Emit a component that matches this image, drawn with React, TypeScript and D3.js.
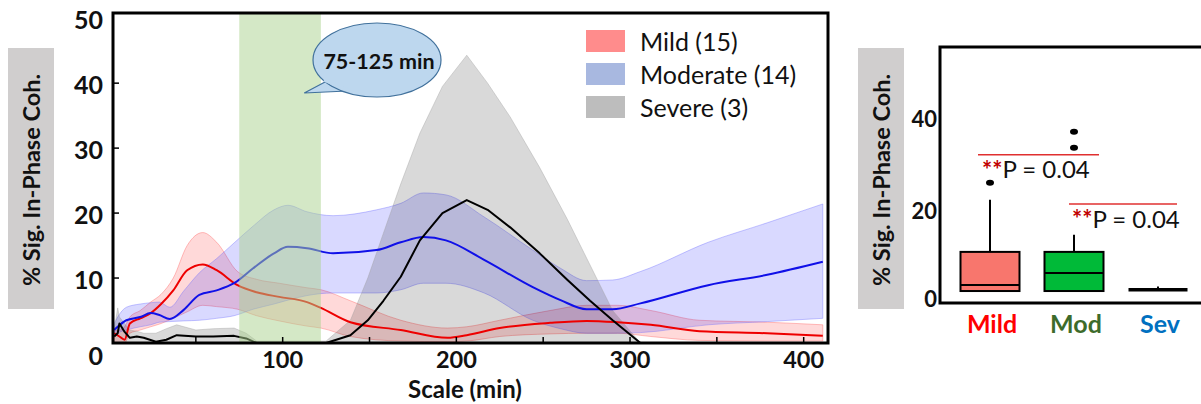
import React from 'react';
import * as d3 from 'd3';

// ---- left panel: % sig. in-phase coherence vs scale ----
const mildX = [3, 6, 9, 12, 18, 24, 30, 37, 45, 54, 62, 74, 85, 98, 114, 122, 139, 168, 195, 206, 225, 254, 275, 293, 312, 340, 379, 411];
const mildMean = [1.5, 1.0, 0.5, 3.0, 3.8, 4.6, 6.0, 8.1, 11.2, 12.1, 11.2, 8.9, 7.8, 7.1, 6.3, 5.4, 3.2, 2.0, 0.8, 1.2, 2.3, 3.1, 3.4, 3.2, 2.8, 1.8, 1.5, 1.1];
const mildUpper = [2.0, 2.0, 2.5, 4.0, 5.0, 6.3, 7.5, 10.0, 15.0, 17.0, 15.5, 11.0, 9.8, 9.2, 8.5, 8.2, 6.5, 3.5, 2.3, 2.5, 3.5, 5.0, 5.8, 5.8, 5.0, 3.5, 3.2, 2.8];
const mildLower = [0, 0, 0, 1.5, 2.0, 2.5, 3.0, 3.8, 4.8, 5.8, 5.6, 5.2, 4.2, 3.4, 2.6, 2.3, 1.0, 0.3, 0.2, 0.3, 1.0, 1.4, 1.5, 1.5, 1.0, 0.4, 0.3, 0.3];

const modX = [3, 5, 10, 18, 24, 29, 35, 43, 52, 62, 72, 83, 95, 103, 114, 129, 154, 168, 181, 194, 216, 244, 260, 275, 290, 306, 345, 379, 411];
const modMean = [2.0, 2.5, 3.5, 4.0, 4.6, 4.3, 3.7, 5.1, 7.4, 8.1, 9.2, 11.5, 13.8, 14.8, 14.6, 13.8, 14.3, 15.5, 16.3, 15.8, 12.8, 8.6, 6.6, 5.2, 5.2, 6.1, 8.9, 10.5, 12.5];
const modUpper = [3.0, 4.0, 5.5, 6.0, 6.2, 6.3, 5.5, 8.0, 10.8, 13.0, 15.4, 18.0, 20.5, 21.2, 20.2, 19.6, 20.5, 21.5, 23.1, 22.8, 19.4, 14.3, 11.5, 9.6, 9.7, 11.0, 15.5, 18.5, 21.4];
const modLower = [1.0, 1.5, 2.0, 2.5, 2.8, 3.2, 3.3, 3.4, 3.5, 3.8, 4.2, 5.2, 6.0, 6.6, 7.3, 7.7, 7.7, 8.2, 9.2, 9.2, 7.7, 3.5, 2.2, 1.5, 1.5, 1.6, 2.8, 3.3, 3.8];

const sevX = [3, 5, 6, 9, 12, 16, 20, 27, 33, 39, 50, 60, 72, 79, 85, 125, 139, 149, 158, 168, 179, 192, 206, 218, 231, 248, 264, 277, 290, 306];
const sevMean = [1.0, 1.5, 3.0, 1.7, 0.8, 1.0, 0.8, 0.2, 0.5, 1.2, 1.0, 1.0, 1.1, 0.7, 0, 0, 1.2, 3.5, 6.5, 10.2, 15.8, 20.0, 22.0, 20.5, 17.8, 13.8, 9.7, 6.5, 3.5, 0];
const sevUpper = [2.0, 5.4, 4.0, 3.0, 2.0, 1.8, 1.5, 1.5, 2.2, 2.8, 2.0, 2.2, 2.3, 1.5, 0.3, 0.3, 3.5, 10.0, 16.9, 24.5, 32.3, 39.5, 44.3, 40.0, 34.8, 27.0, 19.0, 12.0, 5.0, 0];
const sevLower = [0, 0, 0, 0, 0, 0, 0, 0, 0, 0, 0, 0, 0, 0, 0, 0, 0, 0, 0, 0, 0, 0, 0, 0, 0, 0, 0, 0, 0, 0];

const legendLabels = ['Mild (15)', 'Moderate (14)', 'Severe (3)'];
const highlight = [75, 122];
const calloutText = '75-125 min';
const xTicks = [100, 200, 300, 400];
const xMinor = [50, 150, 250, 350];
const yTicks = [0, 10, 20, 30, 40, 50];

// ---- right panel: box plot ----
const boxCats = ['Mild', 'Mod', 'Sev'];
const boxQ1 = [2.6, 2.6, 2.9];
const boxMedian = [3.9, 6.5, 2.9];
const boxQ3 = [11.1, 11.1, 2.9];
const whiskerHi = [22.4, 14.8, 3.6];
const outliers = [[26.1], [33.7, 37.2], []];
const boxYTicks = [0, 20, 40];
const sigLevels = [32.2, 21.5];
const sigLabel = 'P = 0.04';

const font = 'Lato, "Open Sans", sans-serif';

const toPts = (xs: number[], ys: number[]) => xs.map((x, i) => [x, ys[i]] as [number, number]);
const toBand = (xs: number[], lo: number[], hi: number[]) => xs.map((x, i) => [x, lo[i], hi[i]] as [number, number, number]);

export default function App() {
  // left panel scales
  const x = d3.scaleLinear().domain([2.3, 414]).range([113, 828]);
  const y = d3.scaleLinear().domain([0, 50.8]).range([343, 13]);

  const line = (curve: d3.CurveFactory) =>
    d3.line<[number, number]>().x((d) => x(d[0])).y((d) => y(d[1])).curve(curve);
  const area = (curve: d3.CurveFactory) =>
    d3.area<[number, number, number]>().x((d) => x(d[0])).y0((d) => y(d[1])).y1((d) => y(d[2])).curve(curve);

  const smooth = d3.curveMonotoneX;

  const bands = [
    { d: area(smooth)(toBand(mildX, mildLower, mildUpper)), fill: '#ff0000', stroke: '#ff6060' },
    { d: area(smooth)(toBand(modX, modLower, modUpper)), fill: '#0000ff', stroke: '#7070ff' },
    { d: area(d3.curveLinear)(toBand(sevX, sevLower, sevUpper)), fill: '#000000', stroke: '#a0a0a0' },
  ];
  const lines = [
    { d: line(smooth)(toPts(mildX, mildMean)), stroke: '#ee0000' },
    { d: line(smooth)(toPts(modX, modMean)), stroke: '#1010e8' },
    { d: line(d3.curveLinear)(toPts(sevX, sevMean)), stroke: '#000000' },
  ];
  const legendColors = ['#ff8c8c', '#a8b8e0', '#bdbdbd'];

  // right panel scales
  const bx = d3.scalePoint<string>().domain(boxCats).range([990, 1158]);
  const by = d3.scaleLinear().domain([0, 55.6]).range([303, 47]);
  const boxW = 59;
  const boxFill = ['#f8766d', '#00ba38', '#000000'];
  const catColor = ['#ff0000', '#3d6b2b', '#0070c0'];
  // significance bar extents, relative to the compared categories
  const sigPad = [
    { l: -12, r: 25, t: -8 },
    { l: -5, r: 19, t: -2 },
  ];

  // callout geometry
  const cx = 377, cy = 60, rx = 64, ry = 37;
  const tailTip: [number, number] = [x(highlight[0]) + 65, 93];

  return (
    <svg width={1201} height={404} style={{ position: 'absolute', left: 0, top: 0 }} fontFamily={font}>
      <rect width={1201} height={404} fill="#ffffff" />

      {/* y label box left */}
      <rect x={8} y={48} width={46} height={261} fill="#d0cece" />
      <text transform={`translate(31,180) rotate(-90)`} textAnchor="middle" dominantBaseline="central"
        fontSize={23.5} fontWeight={700} fill="#111">% Sig. In-Phase Coh.</text>

      {/* bands */}
      {bands.map((b, i) => (
        <path key={'b' + i} d={b.d ?? ''} fill={b.fill} fillOpacity={0.15} stroke={b.stroke} strokeOpacity={0.5} strokeWidth={0.8} />
      ))}
      {/* mean lines */}
      {lines.map((l, i) => (
        <path key={'l' + i} d={l.d ?? ''} fill="none" stroke={l.stroke} strokeWidth={2} strokeLinejoin="round" />
      ))}

      {/* highlight band */}
      <rect x={x(highlight[0])} y={y(50.8)} width={x(highlight[1]) - x(highlight[0])} height={y(0) - y(50.8)}
        fill="#a9d18e" fillOpacity={0.5} />

      {/* callout */}
      <path
        d={`M ${cx - 52} ${cy + 22} L ${tailTip[0]} ${tailTip[1]} L ${cx - 30} ${cy + 31}`}
        fill="#bdd7ee" stroke="#41719c" strokeWidth={1.2} />
      <ellipse cx={cx} cy={cy} rx={rx} ry={ry} fill="#bdd7ee" stroke="#41719c" strokeWidth={1.2} />
      <path d={`M ${cx - 53} ${cy + 20} L ${cx - 29} ${cy + 30}`} stroke="#bdd7ee" strokeWidth={3} />
      <text x={cx + 2} y={cy + 1} textAnchor="middle" dominantBaseline="central" fontSize={21.5} fontWeight={700} fill="#111">
        {calloutText}
      </text>

      {/* frame */}
      <rect x={113} y={13} width={715} height={330} fill="none" stroke="#000" strokeWidth={3} />

      {/* ticks */}
      {xTicks.concat(xMinor).map((t) => (
        <line key={'xt' + t} x1={x(t)} x2={x(t)} y1={y(0)} y2={y(0) - 6} stroke="#000" strokeWidth={1.5} />
      ))}
      {yTicks.filter((t) => t > 0 && t < 50).map((t) => (
        <line key={'yt' + t} x1={113} x2={119} y1={y(t)} y2={y(t)} stroke="#000" strokeWidth={1.5} />
      ))}
      {xTicks.map((t) => (
        <text key={'xl' + t} x={x(t)} y={359} textAnchor="middle" dominantBaseline="central" fontSize={23.5} fontWeight={700} fill="#111">{t}</text>
      ))}
      {yTicks.map((t) => (
        <text key={'yl' + t} x={103} y={t === 0 ? y(t) + 12 : y(t) + 1} textAnchor="end" dominantBaseline="central"
          fontSize={25} fontWeight={700} fill="#111">{t}</text>
      ))}
      <text x={465} y={388} textAnchor="middle" dominantBaseline="central" fontSize={24} fontWeight={700} fill="#111">Scale (min)</text>

      {/* legend */}
      {legendLabels.map((lab, i) => (
        <g key={'lg' + i} transform={`translate(586, ${30 + i * 33})`}>
          <rect width={39} height={22} fill={legendColors[i]} />
          <text x={54} y={11} dominantBaseline="central" fontSize={25} fill="#111">{lab}</text>
        </g>
      ))}

      {/* ---- right panel ---- */}
      <rect x={858} y={48} width={46} height={261} fill="#d0cece" />
      <text transform={`translate(881,180) rotate(-90)`} textAnchor="middle" dominantBaseline="central"
        fontSize={23.5} fontWeight={700} fill="#111">% Sig. In-Phase Coh.</text>

      {boxYTicks.map((t) => (
        <text key={'byl' + t} x={937} y={t === 0 ? by(t) - 5 : by(t)} textAnchor="end" dominantBaseline="central"
          fontSize={22} fontWeight={700} fill="#111">{t}</text>
      ))}

      {boxCats.map((c, i) => {
        const cxb = bx(c) ?? 0;
        return (
          <g key={'box' + c}>
            <line x1={cxb} x2={cxb} y1={by(boxQ3[i])} y2={by(whiskerHi[i])} stroke="#000" strokeWidth={2} />
            {boxQ3[i] > boxQ1[i] && (
              <rect x={cxb - boxW / 2} y={by(boxQ3[i])} width={boxW} height={by(boxQ1[i]) - by(boxQ3[i])}
                fill={boxFill[i]} stroke="#000" strokeWidth={2} />
            )}
            <line x1={cxb - boxW / 2} x2={cxb + boxW / 2} y1={by(boxMedian[i])} y2={by(boxMedian[i])}
              stroke="#000" strokeWidth={boxQ3[i] > boxQ1[i] ? 2 : 3.5} />
            {outliers[i].map((o, k) => (
              <ellipse key={k} cx={cxb} cy={by(o)} rx={4} ry={3} fill="#000" />
            ))}
            <text x={cxb + 2} y={323} textAnchor="middle" dominantBaseline="central" fontSize={25} fontWeight={700}
              fill={catColor[i]}>{c}</text>
          </g>
        );
      })}

      {/* significance annotations */}
      {sigLevels.map((lv, i) => {
        const a = bx(boxCats[i]) ?? 0;
        const b = bx(boxCats[i + 1]) ?? 0;
        return (
          <g key={'sig' + i}>
            <line x1={a + sigPad[i].l} x2={b + sigPad[i].r} y1={by(lv)} y2={by(lv)} stroke="#e03030" strokeWidth={1.5} />
            <text x={a + sigPad[i].t} y={by(lv) + 14} dominantBaseline="central" fontSize={24} fill="#111">
              <tspan fill="#c00000" fontWeight={700}>**</tspan>{sigLabel}
            </text>
          </g>
        );
      })}

      {/* frame right */}
      <path d="M 940 47 L 1201 47 M 940 45.5 L 940 303 M 938.5 303 L 1201 303" stroke="#000" strokeWidth={3} fill="none" />
    </svg>
  );
}
